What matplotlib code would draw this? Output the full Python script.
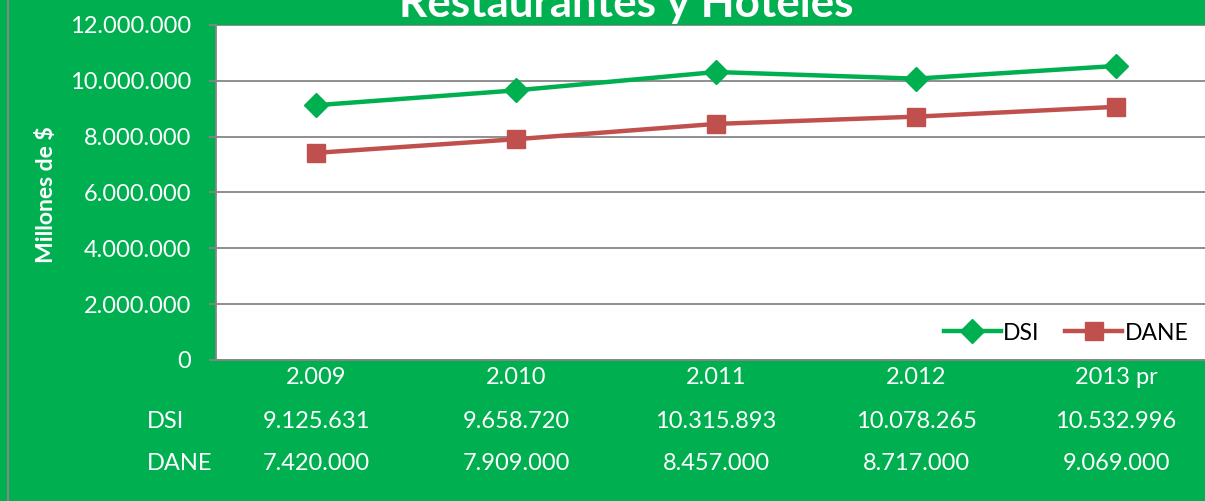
import matplotlib.pyplot as plt
from matplotlib.lines import Line2D
from matplotlib.transforms import blended_transform_factory

years = ['2.009', '2.010', '2.011', '2.012', '2013 pr']
dsi = [9125631, 9658720, 10315893, 10078265, 10532996]
dane = [7420000, 7909000, 8457000, 8717000, 9069000]
dsi_txt = ['9.125.631', '9.658.720', '10.315.893', '10.078.265', '10.532.996']
dane_txt = ['7.420.000', '7.909.000', '8.457.000', '8.717.000', '9.069.000']
yticks = [0, 2000000, 4000000, 6000000, 8000000, 10000000, 12000000]

green = '#00B050'
red = '#C0504D'
grey = '#868686'

plt.rcParams['font.family'] = ['Lato', 'DejaVu Sans']

W, H = 1205, 501
fig = plt.figure(figsize=(W / 100, H / 100), dpi=100, facecolor=green)
ax = fig.add_axes([216 / W, 1 - 360 / H, 1000 / W, 335 / H])
ax.set_facecolor('white')

x = list(range(len(years)))
ax.plot(x, dsi, color=green, lw=3.2, marker='D', ms=12, label='DSI', zorder=3)
ax.plot(x, dane, color=red, lw=3.2, marker='s', ms=13, label='DANE', zorder=3)

ax.set_xlim(-0.5, 4.5)
ax.set_ylim(0, 12000000)
ax.set_yticks(yticks)
ax.set_yticklabels(['{:,}'.format(v).replace(',', '.') for v in yticks])
ax.grid(axis='y', color=grey, lw=1.3)
ax.set_axisbelow(True)
ax.set_xticks(x)
ax.set_xticklabels(years)
ax.tick_params(axis='y', colors=grey, labelcolor='white', labelsize=17, length=5, width=1.3, pad=13)
ax.tick_params(axis='x', labelcolor='white', labelsize=17, length=0, pad=5)
for s in ['top', 'right']:
    ax.spines[s].set_visible(False)
for s in ['left', 'bottom']:
    ax.spines[s].set_color(grey)
    ax.spines[s].set_linewidth(1.3)

ax.set_ylabel('Millones de $', color='white', fontsize=16.5, fontweight='bold')
ax.yaxis.set_label_coords(57 / W, 1 - 195 / H, transform=fig.transFigure)

# data table
tr = blended_transform_factory(ax.transData, fig.transFigure)
for i in x:
    ax.text(i, 1 - 422 / H, dsi_txt[i], transform=tr, ha='center', va='center', color='white', fontsize=17)
    ax.text(i, 1 - 464 / H, dane_txt[i], transform=tr, ha='center', va='center', color='white', fontsize=17)
fig.text(147 / W, 1 - 422 / H, 'DSI', ha='left', va='center', color='white', fontsize=17)
fig.text(147 / W, 1 - 464 / H, 'DANE', ha='left', va='center', color='white', fontsize=17)

fig.text(626 / W, 1 - 17 / H, 'Restaurantes y Hoteles', ha='center', va='baseline',
         color='white', fontsize=31.7, fontweight='bold')

ax.legend(loc='center right', bbox_to_anchor=(1209 / W, 1 - 333 / H), bbox_transform=fig.transFigure,
          ncol=2, frameon=False, fontsize=16.5, handlelength=2.5, handletextpad=0.1, columnspacing=1.1)

fig.add_artist(Line2D([8 / W, 8 / W], [0, 1], transform=fig.transFigure, color=grey, lw=1.5))

fig.savefig('out.png', dpi=100, facecolor=green)
